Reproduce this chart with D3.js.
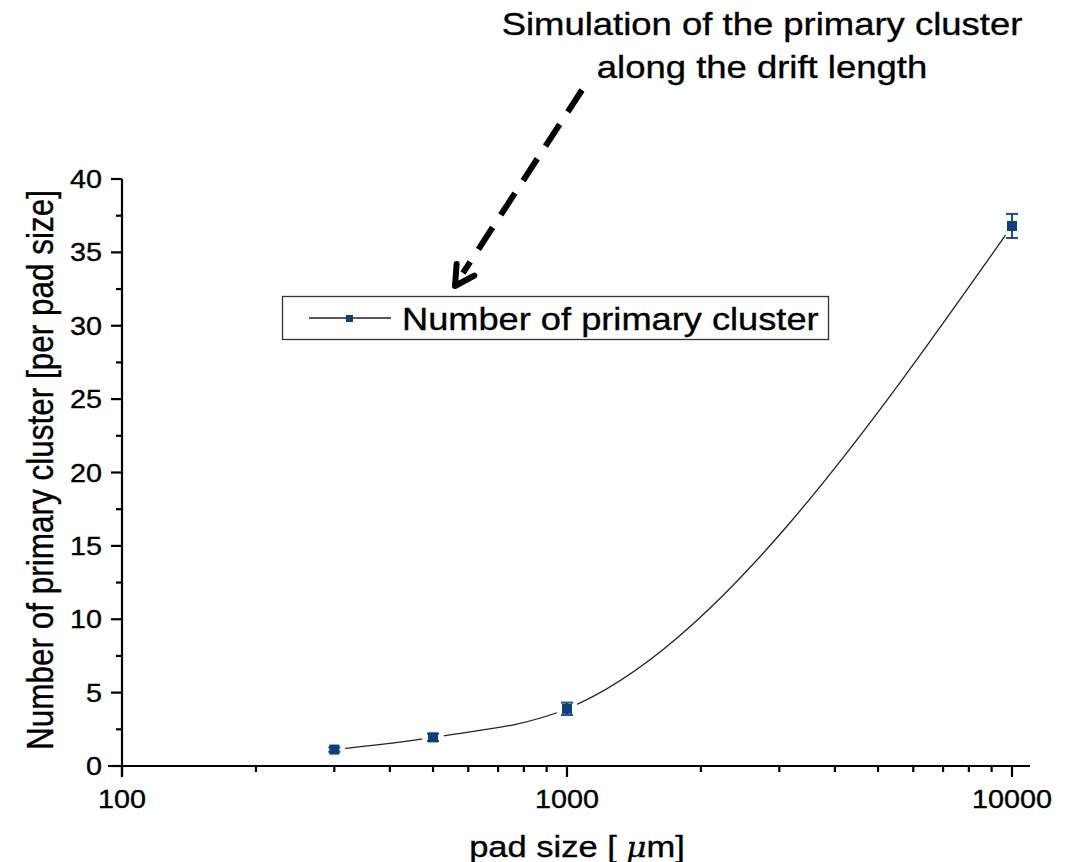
<!DOCTYPE html>
<html>
<head>
<meta charset="utf-8">
<script src="https://cdn.jsdelivr.net/npm/d3@7"></script>
<style>
  html, body { margin: 0; padding: 0; background: #fff; }
  svg { display: block; font-family: "Liberation Sans", Arial, sans-serif; }
  svg text { stroke: #000; stroke-width: 0.35px; }
</style>
</head>
<body>
<svg id="chart" width="1076" height="862"></svg>
<script>
// Pad size (µm) and simulated number of primary clusters per pad
const padSizes = [300, 500, 1000, 10000];
const clusterCounts = [1.12, 1.95, 3.9, 36.8];
const clusterErrors = [0.15, 0.25, 0.42, 0.82];

const xTickValues = [100, 1000, 10000];
const yTickValues = [0, 5, 10, 15, 20, 25, 30, 35, 40];

const seriesName = "Number of primary cluster";
const titleLines = ["Simulation of the primary cluster", "along the drift length"];

const svg = d3.select("#chart");

const plot = { left: 122, right: 1012, top: 179, bottom: 766 };

const x = d3.scaleLog().domain([100, 10000]).range([plot.left, plot.right]);
const y = d3.scaleLinear().domain([0, 40]).range([plot.bottom, plot.top]);

const markerColor = "#0b3f7e";
const errColor = "#1d4f8c";
const SX = 1.15; // glyphs are drawn slightly wide

// text helper: positions an (optionally rotated) label with widened glyphs
function label(parent, tx, ty, str, size, anchor, rot) {
  const g = parent.append("g")
    .attr("transform", `translate(${tx},${ty})` + (rot ? ` rotate(${rot})` : ""));
  return g.append("text")
    .attr("transform", rot ? `scale(1,${SX})` : `scale(${SX},1)`)
    .attr("text-anchor", anchor)
    .attr("font-size", size)
    .text(str);
}

// ---- axes ----
const axisG = svg.append("g").attr("stroke", "#000").attr("stroke-width", 2.2);

axisG.append("line")
  .attr("x1", plot.left - 14).attr("x2", plot.right + 18)
  .attr("y1", plot.bottom).attr("y2", plot.bottom);
axisG.append("line")
  .attr("x1", plot.left).attr("x2", plot.left)
  .attr("y1", plot.top).attr("y2", plot.bottom + 10);

// x ticks: major decades + minor 2..9
const xMinor = [];
[100, 1000].forEach(d => { for (let k = 2; k <= 9; k++) xMinor.push(d * k); });
axisG.selectAll(".xmaj").data(xTickValues).join("line")
  .attr("x1", d => x(d)).attr("x2", d => x(d))
  .attr("y1", plot.bottom).attr("y2", plot.bottom + 11);
axisG.selectAll(".xmin").data(xMinor).join("line")
  .attr("x1", d => x(d)).attr("x2", d => x(d))
  .attr("y1", plot.bottom).attr("y2", plot.bottom + 6);

const xLab = svg.append("g");
xTickValues.forEach(d => label(xLab, x(d), plot.bottom + 42, d3.format("d")(d), 25, "middle"));

// y ticks: major every 5, minor halfway
const yMinor = d3.range(2.5, 40, 5);
axisG.selectAll(".ymaj").data(yTickValues).join("line")
  .attr("x1", plot.left - 11).attr("x2", plot.left)
  .attr("y1", d => y(d)).attr("y2", d => y(d));
axisG.selectAll(".ymin").data(yMinor).join("line")
  .attr("x1", plot.left - 6).attr("x2", plot.left)
  .attr("y1", d => y(d)).attr("y2", d => y(d));

const yLab = svg.append("g");
yTickValues.forEach(d => label(yLab, plot.left - 20, y(d) + 9, String(d), 25, "end"));

// axis titles
label(svg, 53, 470, "Number of primary cluster [per pad size]", 31.5, "middle", -90);

const xt = label(svg, 577, 857, "", 30, "middle");
xt.append("tspan").text("pad size [ ");
xt.append("tspan").attr("font-style", "italic").attr("font-family", "'DejaVu Serif', serif").attr("font-size", 27).text("μ");
xt.append("tspan").text("m]");

// ---- smooth connecting curve ----
const pts = padSizes.map((d, i) => [x(d), y(clusterCounts[i])]);
const line = d3.line().curve(d3.curveMonotoneX);
svg.append("path")
  .attr("d", line(pts))
  .attr("fill", "none")
  .attr("stroke", "#222")
  .attr("stroke-width", 1.3);

// white halo leaves a small gap between curve and markers
svg.append("g").selectAll("circle").data(pts).join("circle")
  .attr("cx", d => d[0]).attr("cy", d => d[1]).attr("r", 11)
  .attr("fill", "#fff");

// ---- error bars ----
const eb = svg.append("g").attr("stroke", errColor).attr("stroke-width", 2);
padSizes.forEach((d, i) => {
  const cx = x(d), lo = y(clusterCounts[i] - clusterErrors[i]), hi = y(clusterCounts[i] + clusterErrors[i]);
  eb.append("line").attr("x1", cx).attr("x2", cx).attr("y1", lo).attr("y2", hi);
  eb.append("line").attr("x1", cx - 6).attr("x2", cx + 6).attr("y1", lo).attr("y2", lo);
  eb.append("line").attr("x1", cx - 6).attr("x2", cx + 6).attr("y1", hi).attr("y2", hi);
});

// ---- markers ----
svg.append("g").selectAll("rect").data(pts).join("rect")
  .attr("x", d => d[0] - 5).attr("y", d => d[1] - 5)
  .attr("width", 10).attr("height", 10)
  .attr("fill", markerColor);

// ---- legend ----
const lg = svg.append("g");
lg.append("rect")
  .attr("x", 282.5).attr("y", 296.5).attr("width", 546).attr("height", 43)
  .attr("fill", "#fff").attr("stroke", "#333").attr("stroke-width", 1.3);
lg.append("line").attr("x1", 309).attr("x2", 391).attr("y1", 318).attr("y2", 318)
  .attr("stroke", "#222").attr("stroke-width", 1.3);
lg.append("rect").attr("x", 346).attr("y", 315).attr("width", 7).attr("height", 7).attr("fill", markerColor);
label(lg, 402, 330, seriesName, 31.5, "start");

// ---- annotation ----
titleLines.forEach((t, i) => label(svg, 762, 35 + i * 43, t, 31.7, "middle"));

const ax1 = 582, ay1 = 90, ax2 = 455, ay2 = 286;
svg.append("line")
  .attr("x1", ax1).attr("y1", ay1).attr("x2", ax2 + 8).attr("y2", ay2 - 13)
  .attr("stroke", "#000").attr("stroke-width", 6)
  .attr("stroke-dasharray", "26,15");
const ang = Math.atan2(ay2 - ay1, ax2 - ax1);
const head = 22, spread = 0.5;
svg.append("path")
  .attr("d", `M${ax2 + head * Math.cos(ang + Math.PI - spread)},${ay2 + head * Math.sin(ang + Math.PI - spread)} L${ax2},${ay2} L${ax2 + head * Math.cos(ang + Math.PI + spread)},${ay2 + head * Math.sin(ang + Math.PI + spread)}`)
  .attr("fill", "none").attr("stroke", "#000").attr("stroke-width", 6)
  .attr("stroke-linecap", "round").attr("stroke-linejoin", "round");
</script>
</body>
</html>
